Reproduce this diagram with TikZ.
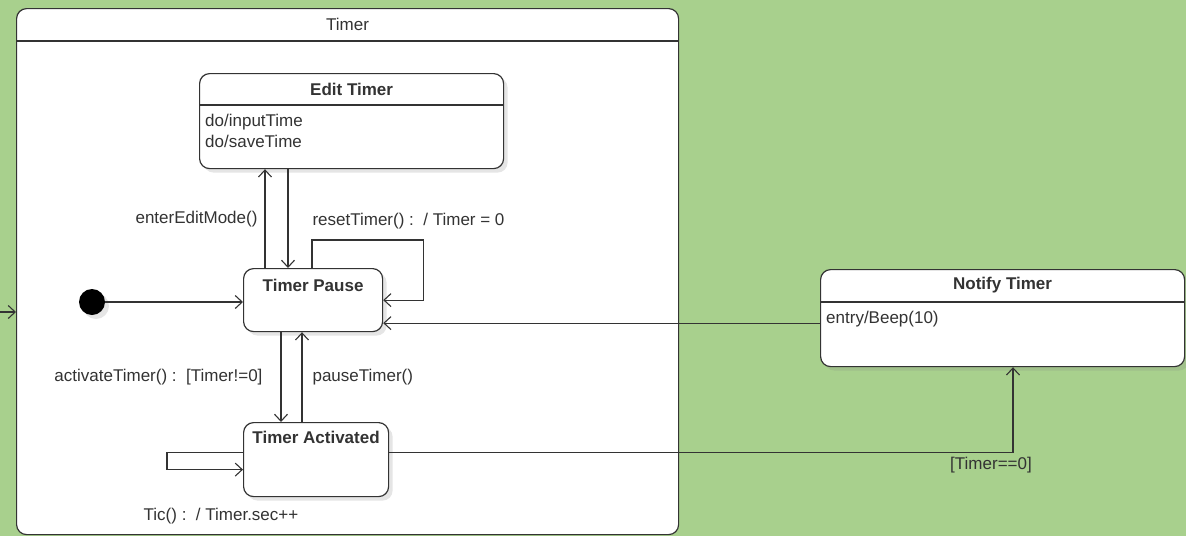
\documentclass[tikz,border=0pt]{standalone}
\usepackage{fontspec}
\setmainfont{Liberation Sans}
\usetikzlibrary{positioning,arrows.meta,calc,shadows}
\definecolor{bggreen}{RGB}{168,208,141}
\definecolor{inkgray}{RGB}{51,51,51}
\newcommand{\diagfont}{\fontsize{17}{20}\selectfont}
\tikzset{statebox/.style={draw=inkgray, fill=white, rounded corners=10pt, line width=1.2pt,
    inner sep=0pt, anchor=north west},
  shadowed/.style={drop shadow={shadow xshift=4pt, shadow yshift=-4pt, opacity=0.2}},
  statetitle/.style={font=\diagfont\bfseries, text=inkgray},
  bodytext/.style={text=inkgray, align=left, anchor=north west, inner sep=0pt},
  trans/.style={draw=inkgray, line width=1.1pt, -{Straight Barb[length=7pt,width=13pt]}},
  lbl/.style={text=inkgray, inner sep=2pt}
}

\begin{document}
\begin{tikzpicture}[x=1pt, y=-1pt, font=\diagfont]
        \useasboundingbox[fill=bggreen] (0,0) rectangle (1186,536);

        % composite state
        \node[statebox, minimum width=662pt, minimum height=526pt] (timer) at (16,8) {};
        \draw[inkgray, line width=1.2pt] ($(timer.north west)+(0,33)$) -- ($(timer.north east)+(0,33)$);
        \node[lbl] (timertitle) at ($(timer.north)+(0,16)$) {Timer};

        % states
        \node[statebox, shadowed, minimum width=304pt, minimum height=95pt] (edit) at (199,73) {};
        \draw[inkgray, line width=1.2pt] ($(edit.north west)+(0,32)$) -- ($(edit.north east)+(0,32)$);
        \node[statetitle] (edittitle) at ($(edit.north)+(0,16)$) {Edit Timer};
        \node[bodytext] (editbody) at ($(edit.north west)+(6,41)$) {do/inputTime\\[1pt]do/saveTime};

        \node[statebox, shadowed, minimum width=139pt, minimum height=63pt] (pause) at (243,268) {};
        \node[statetitle] (pausetitle) at ($(pause.north)+(0,17)$) {Timer Pause};

        \node[statebox, shadowed, minimum width=145pt, minimum height=74pt] (act) at (243,422) {};
        \node[statetitle] (acttitle) at ($(act.north)+(0,15)$) {Timer Activated};

        \node[statebox, shadowed, minimum width=364pt, minimum height=97pt] (notify) at (820,269) {};
        \draw[inkgray, line width=1.2pt] ($(notify.north west)+(0,33)$) -- ($(notify.north east)+(0,33)$);
        \node[statetitle] (notifytitle) at ($(notify.north)+(0,16)$) {Notify Timer};
        \node[bodytext] (notifybody) at ($(notify.north west)+(6,42)$) {entry/Beep(10)};

        \node[circle, fill=black, minimum size=26pt, inner sep=0pt, shadowed] (init) at (92,302) {};

        % helper coordinates
        \coordinate (xa) at (265,0);
        \coordinate (xb) at (288,0);
        \coordinate (xc) at (312,0);
        \coordinate (xd) at (281,0);
        \coordinate (xe) at (302,0);
        \coordinate (xf) at (1013,0);
        \coordinate (lft) at (0,312);
        \coordinate (nw) at ([yshift=-5pt]notify.west);

        % transitions
        \draw[trans] (lft) -- (lft -| timer.west);
        \draw[trans] (init) -- (init -| pause.west);
        \draw[trans] (xa |- pause.north) -- node[lbl, left=5pt] {enterEditMode()} (xa |- edit.south);
        \draw[trans] (xb |- edit.south) -- (xb |- pause.north);
        \draw[trans] (xc |- pause.north) -- ++(0,-28)
              node[lbl, anchor=south west, xshift=-2pt, yshift=8pt] {resetTimer() :~~/ Timer = 0}
              -| ([xshift=40pt]pause.east) -- (pause.east);
        \draw[trans] (nw) -- (nw -| pause.east);
        \draw[trans] (xd |- pause.south) -- node[lbl, left=16pt] {activateTimer() :~~[Timer!=0]} (xd |- act.north);
        \draw[trans] (xe |- act.north) -- node[lbl, right=8pt] {pauseTimer()} (xe |- pause.south);
        \draw[trans] ([yshift=7pt]act.west) -- ++(-76,0) |- ([yshift=-10pt]act.west);
        \node[lbl] (ticlbl) at (221,516) {Tic() :~~/ Timer.sec++};
        \draw[trans] ([yshift=7pt]act.east) -| node[lbl, pos=0.5, below=2pt, xshift=-22pt] {[Timer==0]} (xf |- notify.south);
\end{tikzpicture}
\end{document}
